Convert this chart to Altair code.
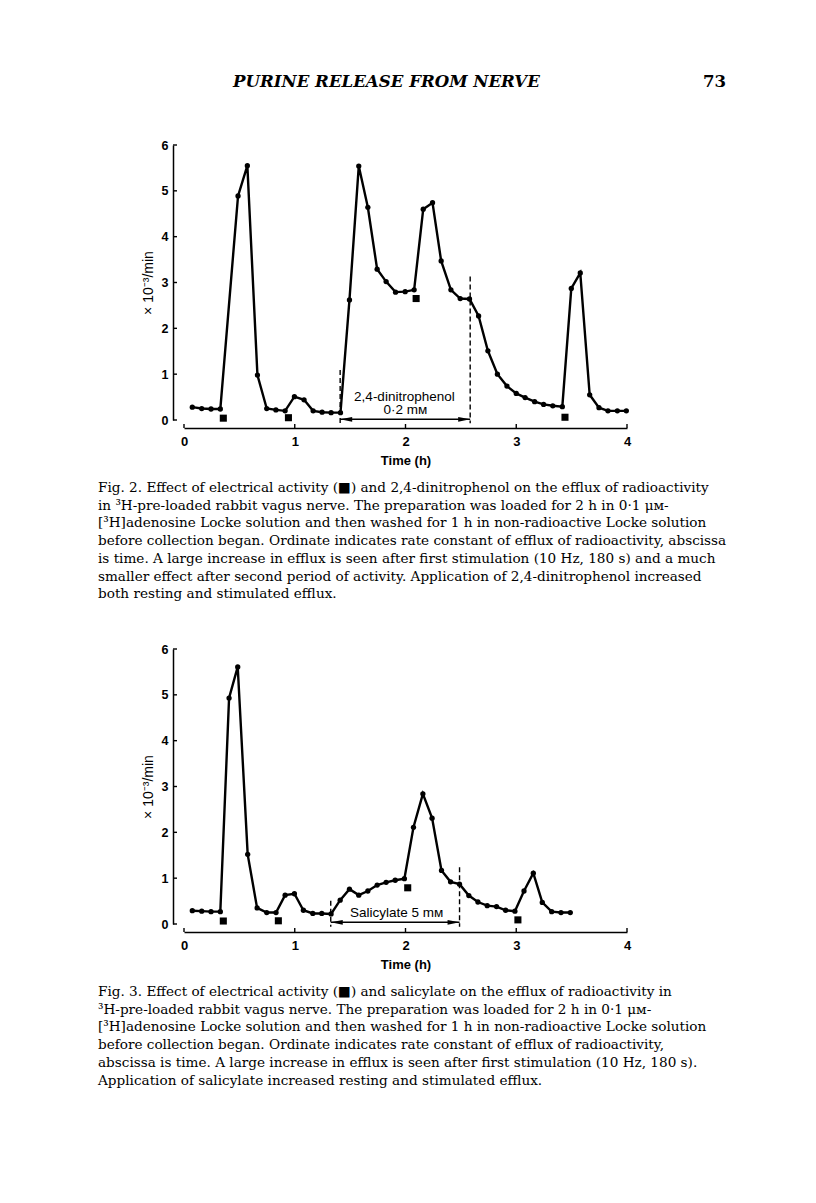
import altair as alt
import pandas as pd

# ---------------- Fig. 2 data (2,4-dinitrophenol) ----------------
t_fig2 = [0.075, 0.16, 0.244, 0.328, 0.488, 0.572, 0.663, 0.747, 0.83, 0.913,
          0.997, 1.084, 1.166, 1.247, 1.328, 1.413, 1.494, 1.578, 1.66, 1.744,
          1.825, 1.91, 1.997, 2.078, 2.16, 2.244, 2.322, 2.41, 2.494, 2.578,
          2.66, 2.744, 2.83, 2.916, 3.0, 3.08, 3.166, 3.247, 3.33, 3.416,
          3.497, 3.578, 3.663, 3.747, 3.828, 3.913, 3.994]
v_fig2 = [0.28, 0.25, 0.24, 0.24, 4.89, 5.55, 0.98, 0.25, 0.22, 0.20,
          0.51, 0.44, 0.20, 0.17, 0.16, 0.16, 2.62, 5.54, 4.64, 3.29,
          3.02, 2.79, 2.80, 2.84, 4.60, 4.74, 3.47, 2.84, 2.65, 2.64,
          2.27, 1.51, 1.00, 0.74, 0.58, 0.49, 0.40, 0.34, 0.31, 0.29,
          2.87, 3.21, 0.55, 0.27, 0.20, 0.20, 0.20]
stim_t_fig2 = [0.355, 0.943, 2.096, 3.44]
stim_v_fig2 = [0.04, 0.05, 2.65, 0.06]
drug_t_fig2 = [1.41, 2.584]
drug_top_fig2 = [1.09, 3.13]
drug_bottom_fig2 = [-0.07, -0.07]
arrow_v_fig2 = 0.015
label_text_fig2 = ["2,4-dinitrophenol", "0·2 mм"]
label_t_fig2 = [1.99, 2.0]
label_v_fig2 = [0.51, 0.22]
caption_fig2 = [
    "Fig. 2. Effect of electrical activity (■) and 2,4-dinitrophenol on the efflux of radioactivity",
    "in ³H-pre-loaded rabbit vagus nerve. The preparation was loaded for 2 h in 0·1 μм-",
    "[³H]adenosine Locke solution and then washed for 1 h in non-radioactive Locke solution",
    "before collection began. Ordinate indicates rate constant of efflux of radioactivity, abscissa",
    "is time. A large increase in efflux is seen after first stimulation (10 Hz, 180 s) and a much",
    "smaller effect after second period of activity. Application of 2,4-dinitrophenol increased",
    "both resting and stimulated efflux.",
]

# ---------------- Fig. 3 data (salicylate) ----------------
t_fig3 = [0.075, 0.16, 0.244, 0.328, 0.407, 0.485, 0.575, 0.66, 0.747, 0.831,
          0.913, 0.997, 1.078, 1.163, 1.244, 1.328, 1.41, 1.494, 1.578, 1.66,
          1.744, 1.825, 1.907, 1.99, 2.072, 2.157, 2.24, 2.325, 2.407, 2.488,
          2.572, 2.654, 2.738, 2.822, 2.904, 2.988, 3.07, 3.154, 3.235, 3.32,
          3.404, 3.488]
v_fig3 = [0.29, 0.28, 0.27, 0.27, 4.93, 5.61, 1.52, 0.35, 0.25, 0.25,
          0.63, 0.66, 0.30, 0.23, 0.23, 0.22, 0.52, 0.76, 0.63, 0.72,
          0.85, 0.91, 0.955, 0.99, 2.11, 2.84, 2.31, 1.17, 0.92, 0.87,
          0.62, 0.48, 0.40, 0.38, 0.30, 0.28, 0.72, 1.11, 0.47, 0.27,
          0.25, 0.25]
stim_t_fig3 = [0.355, 0.852, 2.02, 3.015]
stim_v_fig3 = [0.065, 0.07, 0.79, 0.09]
drug_t_fig3 = [1.325, 2.488]
drug_top_fig3 = [0.51, 1.24]
drug_bottom_fig3 = [-0.06, -0.06]
arrow_v_fig3 = 0.036
label_text_fig3 = ["Salicylate 5 mм"]
label_t_fig3 = [1.92]
label_v_fig3 = [0.23]
caption_fig3 = [
    "Fig. 3. Effect of electrical activity (■) and salicylate on the efflux of radioactivity in",
    "³H-pre-loaded rabbit vagus nerve. The preparation was loaded for 2 h in 0·1 μм-",
    "[³H]adenosine Locke solution and then washed for 1 h in non-radioactive Locke solution",
    "before collection began. Ordinate indicates rate constant of efflux of radioactivity,",
    "abscissa is time. A large increase in efflux is seen after first stimulation (10 Hz, 180 s).",
    "Application of salicylate increased resting and stimulated efflux.",
]

x_ticks = [0, 1, 2, 3, 4]
y_ticks = [0, 1, 2, 3, 4, 5, 6]
header_text = "PURINE RELEASE FROM NERVE"
page_number = "73"
x_title = "Time (h)"
y_title = "× 10⁻³/min"

W, H = 443, 275
SANS = "Liberation Sans"
SERIF = "DejaVu Serif"
X_OFF, Y_OFF = 8, 11


def panel(t, v, stim_t, stim_v, drug_t, drug_top, drug_bottom, arrow_v,
          lab_text, lab_t, lab_v, caption, header=False):
    xs = alt.Scale(domain=[0, 4], nice=False, zero=False)
    ys = alt.Scale(domain=[0, 6], nice=False, zero=False)
    x_axis = alt.Axis(values=x_ticks, offset=X_OFF, ticks=False, tickSize=0, grid=False,
                      domainColor="black", domainWidth=1.5, labelFont=SANS,
                      labelFontWeight="bold", labelFontSize=13, labelColor="black",
                      labelPadding=7, labelFlush=False, format="d",
                      title=x_title, titleFont=SANS, titleFontSize=13,
                      titleFontWeight="bold", titleColor="black", titlePadding=6)
    y_axis = alt.Axis(values=y_ticks, offset=Y_OFF, ticks=False, tickSize=0, grid=False,
                      domainColor="black", domainWidth=1.5, labelFont=SANS,
                      labelFontWeight="bold", labelFontSize=12.5, labelColor="black",
                      labelPadding=5, labelFlush=False, format="d",
                      title=y_title, titleFont=SANS, titleFontSize=14,
                      titleFontWeight="normal", titleColor="black", titlePadding=6)

    def X(f):
        return alt.X(f, type="quantitative", scale=xs, axis=x_axis)

    def Y(f):
        return alt.Y(f, type="quantitative", scale=ys, axis=y_axis)

    df = pd.DataFrame({"t": t, "v": v})
    line = alt.Chart(df).mark_line(color="black", strokeWidth=2.4).encode(x=X("t"), y=Y("v"))
    pts = alt.Chart(df).mark_circle(color="black", size=28, opacity=1).encode(x=X("t"), y=Y("v"))
    sdf = pd.DataFrame({"t": stim_t, "v": stim_v})
    sq = alt.Chart(sdf).mark_square(color="black", size=50, opacity=1).encode(x=X("t"), y=Y("v"))

    ddf = pd.DataFrame({"t": drug_t, "top": drug_top, "bottom": drug_bottom})
    dashed = alt.Chart(ddf).mark_rule(color="black", strokeWidth=1.4, strokeDash=[5, 3]).encode(
        x=X("t"), y=Y("top"), y2="bottom")

    adf = pd.DataFrame({"t": [drug_t[0]], "t2": [drug_t[1]], "v": [arrow_v]})
    shaft = alt.Chart(adf).mark_rule(color="black", strokeWidth=1.5).encode(
        x=X("t"), x2="t2", y=Y("v"))
    hl = pd.DataFrame({"t": [drug_t[0]], "v": [arrow_v]})
    hr = pd.DataFrame({"t": [drug_t[1]], "v": [arrow_v]})
    head_l = alt.Chart(hl).mark_point(shape="M0,0L4,-0.8L4,0.8Z", size=36, filled=True,
                                      color="black", opacity=1, strokeWidth=0).encode(x=X("t"), y=Y("v"))
    head_r = alt.Chart(hr).mark_point(shape="M0,0L-4,-0.8L-4,0.8Z", size=36, filled=True,
                                      color="black", opacity=1, strokeWidth=0).encode(x=X("t"), y=Y("v"))

    ldf = pd.DataFrame({"t": lab_t, "v": lab_v, "txt": lab_text})
    labels = alt.Chart(ldf).mark_text(font=SANS, fontSize=13.5, color="black",
                                      align="center", baseline="middle").encode(
        x=X("t"), y=Y("v"), text="txt:N")

    ytk = alt.Chart(pd.DataFrame({"v": y_ticks})).mark_rule(color="black", strokeWidth=1.4).encode(
        y=Y("v"), x=alt.value(-Y_OFF), x2=alt.value(-Y_OFF + 4))
    xtk = alt.Chart(pd.DataFrame({"t": x_ticks})).mark_rule(color="black", strokeWidth=1.4).encode(
        x=X("t"), y=alt.value(H + X_OFF), y2=alt.value(H + X_OFF - 4))

    one = pd.DataFrame({"c": [0]})
    cap = alt.Chart(one).mark_text(text=caption, font=SERIF, fontSize=13.6, lineHeight=17.7,
                                   color="black", align="left", baseline="alphabetic").encode(
        x=alt.value(-86), y=alt.value(347))

    layers = [dashed, shaft, head_l, head_r, line, pts, sq, labels, ytk, xtk, cap]
    if header:
        hd = alt.Chart(one).mark_text(text=header_text, font=SERIF, fontStyle="italic",
                                      fontWeight="bold", fontSize=16.6, color="black",
                                      align="left", baseline="alphabetic").encode(
            x=alt.value(49), y=alt.value(-58))
        pg = alt.Chart(one).mark_text(text=page_number, font=SERIF, fontWeight="bold",
                                      fontSize=16.6, color="black", align="right",
                                      baseline="alphabetic").encode(
            x=alt.value(542), y=alt.value(-58))
        layers += [hd, pg]
    return alt.layer(*layers).properties(width=W, height=H)


p1 = panel(t_fig2, v_fig2, stim_t_fig2, stim_v_fig2, drug_t_fig2, drug_top_fig2,
           drug_bottom_fig2, arrow_v_fig2, label_text_fig2, label_t_fig2, label_v_fig2,
           caption_fig2, header=True)
p2 = panel(t_fig3, v_fig3, stim_t_fig3, stim_v_fig3, drug_t_fig3, drug_top_fig3,
           drug_bottom_fig3, arrow_v_fig3, label_text_fig3, label_t_fig3, label_v_fig3,
           caption_fig3)

chart = alt.vconcat(p1, p2, spacing=42).properties(
    padding={"left": 90, "top": 66, "right": 5, "bottom": 5},
    background="white",
).configure_view(stroke=None)

chart.save("out.html", embed_options={"renderer": "svg", "actions": False})
